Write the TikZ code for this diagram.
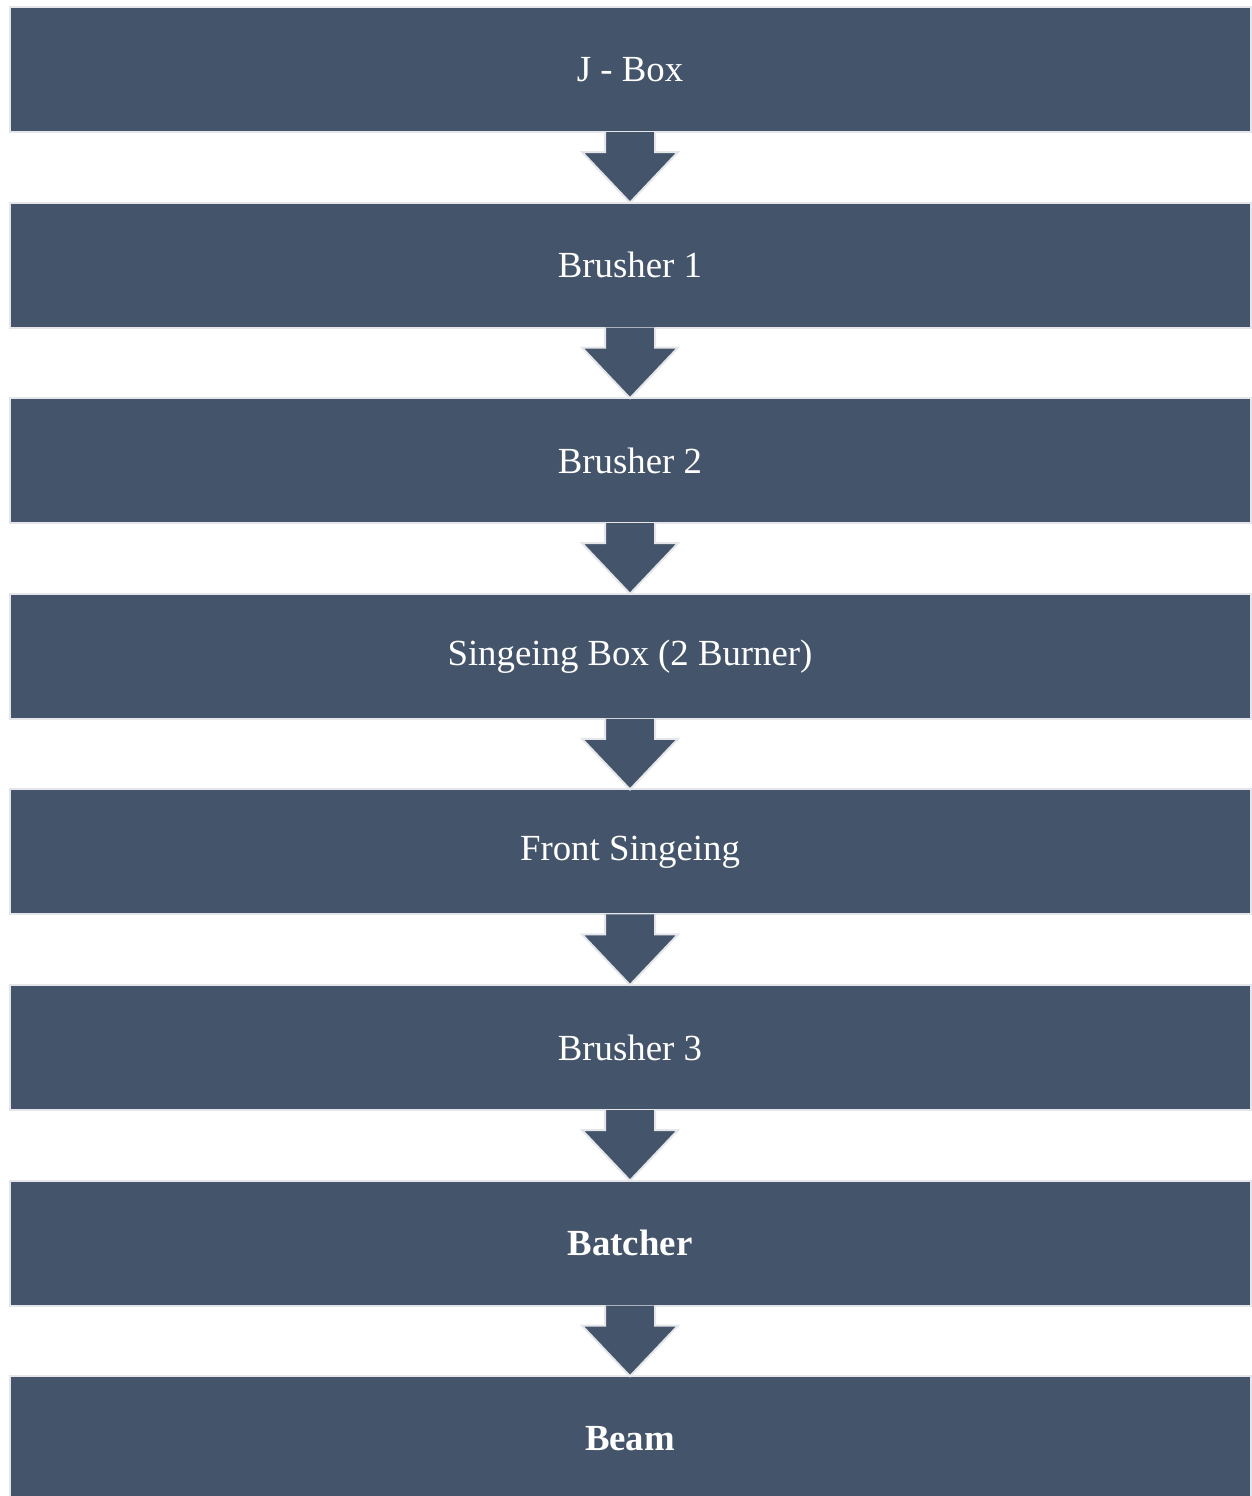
\documentclass[tikz,border=0pt]{standalone}
\usepackage{fontspec}
\setmainfont{Liberation Serif}
\usetikzlibrary{positioning,calc}
\definecolor{slate}{HTML}{44546A}
\definecolor{rim}{HTML}{E4E6EA}

\begin{document}
\begin{tikzpicture}[x=0.5pt,y=-0.5pt,
  stage/.style={fill=slate,draw=rim,line width=1pt,text=white,font=\fontsize{18.4}{22}\selectfont,
    minimum width=620.5pt,minimum height=62.5pt,inner sep=0pt,outer sep=0pt},
  flow/.style={fill=slate,draw=rim,line width=1pt}]
\useasboundingbox (0,0) rectangle (1252,1496);
% process stages, top to bottom
\node[stage] (jbox) at (630,69.5) {J - Box};
\node[stage,below=35.3pt of jbox] (brush1) {Brusher 1};
\node[stage,below=35.3pt of brush1] (brush2) {Brusher 2};
\node[stage,below=35.3pt of brush2] (singbox) {Singeing Box (2 Burner)};
\node[stage,below=35.3pt of singbox] (frontsing) {Front Singeing};
\node[stage,below=35.3pt of frontsing] (brush3) {Brusher 3};
\node[stage,below=35.3pt of brush3] (batcher) {\textbf{Batcher}};
\node[stage,below=35.3pt of batcher] (beam) {\textbf{Beam}};
% block arrows between stages
\foreach \a/\b in {jbox/brush1,brush1/brush2,brush2/singbox,singbox/frontsing,frontsing/brush3,brush3/batcher,batcher/beam}
  \filldraw[flow] ($(\a.south)+(-25,0)$) -- ++(0,20) -- ++(-23,0) -- (\b.north)
    -- ($(\a.south)+(48,20)$) -- ++(-23,0) -- ++(0,-20);
\end{tikzpicture}
\end{document}
